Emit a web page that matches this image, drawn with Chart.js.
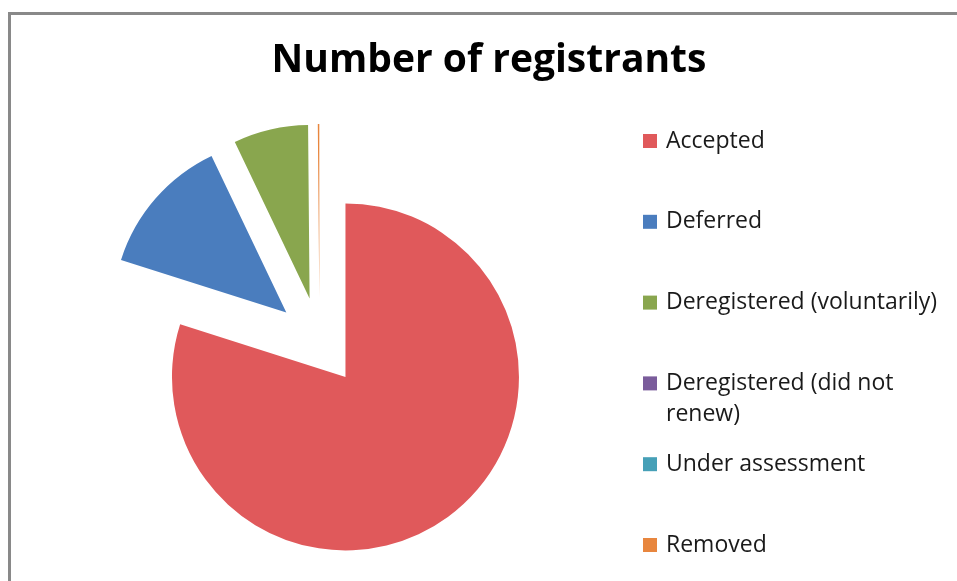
<!DOCTYPE html>
<html>
<head>
<meta charset="utf-8">
<title>Number of registrants</title>
<script src="https://cdn.jsdelivr.net/npm/chart.js@4"></script>
<style>
    html, body { margin: 0; padding: 0; background: #ffffff; overflow: hidden; }
    .frame {
        position: absolute;
        left: 8px;
        top: 12px;
        width: 1000px;
        height: 700px;
        border-left: 3px solid #898989;
        border-top: 3px solid #898989;
    }
    #registrantsChart { position: absolute; left: 0; top: 0; }
</style>
</head>
<body>
<div class="frame"></div>
<canvas id="registrantsChart" width="957" height="581"></canvas>

<script>
// ========================================
// Registrants by status - exploded pie
// ========================================

const categories = [
    'Accepted',
    'Deferred',
    'Deregistered (voluntarily)',
    'Deregistered (did not renew)',
    'Under assessment',
    'Removed'
];
const registrants = [1149, 187, 100, 0, 0, 2];
const sliceColors = ['#E0595B', '#4A7DBE', '#89A64E', '#7A5C9B', '#46A0B7', '#E8863E'];

const PIE_RADIUS = 173.5;
const EXPLODE = 44;          // every slice pulled out by the same distance
const LEGEND_WIDTH = 339;
const TEXT_FONT = "'Open Sans', 'DejaVu Sans', sans-serif";

// Pull every slice out from the centre along its own bisector
const explodeSlices = {
    id: 'explodeSlices',
    beforeDatasetsDraw(chart) {
        const meta = chart.getDatasetMeta(0);
        const area = chart.chartArea;
        const cx = (area.left + area.right) / 2 + meta.controller.offsetX;
        const cy = (area.top + area.bottom) / 2 + meta.controller.offsetY;
        meta.data.forEach(arc => {
            const mid = (arc.startAngle + arc.endAngle) / 2;
            arc.x = cx + Math.cos(mid) * EXPLODE;
            arc.y = cy + Math.sin(mid) * EXPLODE;
        });
    }
};

// Wrap a label into lines that fit maxWidth
function wrapLabel(ctx, text, maxWidth) {
    const words = text.split(' ');
    const lines = [];
    let line = '';
    words.forEach(word => {
        const test = line ? line + ' ' + word : word;
        if (line && ctx.measureText(test).width > maxWidth) {
            lines.push(line);
            line = word;
        } else {
            line = test;
        }
    });
    if (line) lines.push(line);
    return lines;
}

// Legend as a layout box on the right, so the pie is centred in what is left
const sideLegend = {
    id: 'sideLegend',
    beforeInit(chart) {
        const box = {
            position: 'right',
            weight: 0,
            fullSize: false,
            options: {},
            width: 0,
            height: 0,
            left: 0, top: 0, right: 0, bottom: 0,
            isHorizontal() { return false; },
            update(maxWidth, maxHeight) {
                this.width = LEGEND_WIDTH;
                this.height = maxHeight;
            },
            draw() {
                const ctx = chart.ctx;
                const labels = chart.data.labels;
                const colors = chart.data.datasets[0].backgroundColor;
                const firstY = 141;
                const step = 80.8;
                const lineHeight = 31;
                const markerX = this.left + 25;
                const textX = this.left + 48;

                ctx.save();
                ctx.font = '23px ' + TEXT_FONT;
                ctx.textBaseline = 'middle';
                ctx.textAlign = 'left';
                labels.forEach((label, i) => {
                    const y = firstY + i * step;
                    ctx.fillStyle = colors[i];
                    ctx.fillRect(markerX, y - 7, 14, 14);
                    ctx.fillStyle = '#1a1a1a';
                    wrapLabel(ctx, label, 300).forEach((line, j) => {
                        ctx.fillText(line, textX, y + j * lineHeight);
                    });
                });
                ctx.restore();
            }
        };
        Chart.layouts.addBox(chart, box);
    }
};

function initChart() {
    const ctx = document.getElementById('registrantsChart');
    new Chart(ctx, {
        type: 'pie',
        data: {
            labels: categories,
            datasets: [{
                data: registrants,
                backgroundColor: sliceColors,
                borderWidth: 0,
                hoverOffset: 0,
                clip: false
            }]
        },
        options: {
            responsive: false,
            animation: false,
            events: [],
            radius: PIE_RADIUS,
            layout: {
                padding: { left: 21, right: 0, top: 0, bottom: 0 }
            },
            plugins: {
                legend: { display: false },
                tooltip: { enabled: false },
                title: {
                    display: true,
                    text: 'Number of registrants',
                    color: '#000000',
                    font: { family: TEXT_FONT, size: 39, weight: 'bold', lineHeight: 1.2 },
                    padding: { top: 37, bottom: 18 }
                }
            }
        },
        plugins: [explodeSlices, sideLegend]
    });
}

document.addEventListener('DOMContentLoaded', initChart);
</script>
</body>
</html>
